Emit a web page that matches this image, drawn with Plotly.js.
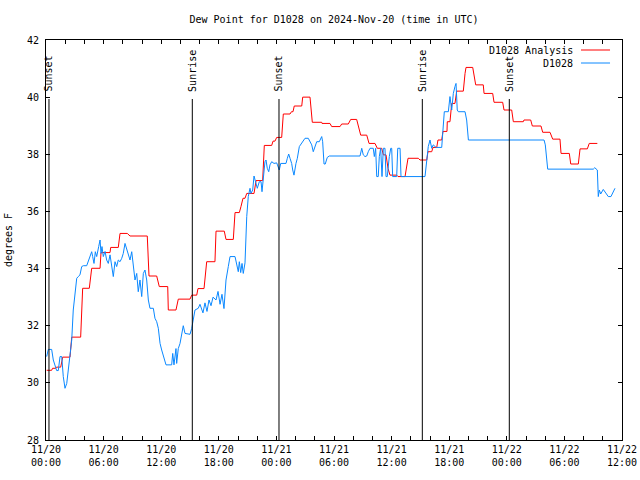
<!DOCTYPE html>
<html>
<head>
<meta charset="utf-8">
<script src="https://cdn.plot.ly/plotly-3.0.1.min.js"></script>
<style>html,body{margin:0;padding:0;background:#fff;}#chart{width:640px;height:480px;}</style>
</head>
<body>
<div id="chart"></div>
<script>
// Hours since 2024-11-20 00:00 UTC
const anaHours = [0.07,0.59,0.68,1.01,1.09,1.53,1.74,2.5,2.68,3.61,3.82,4.51,4.76,5.63,5.73,6.67,6.74,7.53,7.71,8.47,8.75,10.55,10.73,11.53,11.80,12.68,12.74,13.54,13.78,15.0,15.18,15.70,15.83,16.46,16.74,17.60,17.71,18.57,18.75,19.51,19.69,20.14,20.31,20.52,20.73,20.91,21.67,21.88,22.57,22.74,23.51,23.65,23.85,24.03,24.55,24.72,25.42,25.57,25.73,25.86,26.64,26.74,27.5,27.74,28.72,28.75,29.58,29.76,30.63,30.80,31.49,31.74,32.36,32.55,32.78,33.41,33.65,34.27,34.51,34.97,35.14,35.42,35.63,35.83,36.53,36.67,37.40,37.71,38.78,38.96,39.66,39.79,40.18,40.31,40.70,40.83,41.22,41.35,41.77,41.80,42.08,42.26,42.60,42.78,43.47,43.65,43.75,44.45,44.58,44.76,45.55,45.63,46.53,46.67,47.57,47.71,48.51,48.68,49.72,49.79,50.49,50.66,51.56,51.74,52.5,52.78,53.54,53.65,54.51,54.66,55.45,55.63,56.39,56.59,57.43];
const anaDew = [30.44,30.44,30.51,30.51,30.55,30.55,30.9,30.9,31.6,31.6,33.31,33.31,34.01,34.01,34.56,34.56,34.74,34.74,35.23,35.23,35.14,35.14,33.74,33.74,33.37,33.37,32.55,32.55,32.93,32.93,33.07,33.07,33.3,33.3,34.24,34.24,35.31,35.31,35.02,35.02,35.96,35.96,36.17,36.46,36.46,36.63,36.63,37.08,37.08,38.31,38.31,38.46,38.46,38.59,38.59,39.41,39.41,39.49,39.49,39.69,39.69,40.0,40.0,39.12,39.12,39.08,39.08,38.97,38.97,39.06,39.06,39.22,39.22,38.97,38.67,38.67,38.38,38.38,38.21,38.21,37.98,37.98,37.5,37.27,37.27,37.22,37.22,37.86,37.86,37.8,37.8,38.09,38.09,38.24,38.24,38.5,38.5,38.8,38.8,39.14,39.14,39.78,39.78,40.21,40.21,40.83,41.04,41.04,40.74,40.43,40.43,40.13,40.13,39.82,39.82,39.55,39.55,39.14,39.14,39.2,39.2,38.99,38.99,38.77,38.77,38.53,38.53,38.03,38.03,37.66,37.66,38.19,38.19,38.38,38.38];

const obsHours = [0.07,0.24,0.59,0.76,1.11,1.28,1.46,1.64,1.80,1.98,2.16,2.32,2.5,2.68,2.84,3.02,3.20,3.36,3.54,3.72,3.89,4.24,4.41,4.58,4.76,4.86,5.0,5.14,5.28,5.49,5.63,5.73,5.83,5.97,6.15,6.32,6.49,6.67,6.84,7.01,7.19,7.36,7.53,7.71,7.89,8.05,8.23,8.41,8.57,8.75,8.93,9.09,9.27,9.45,9.61,9.79,9.97,10.14,10.31,10.49,10.66,10.83,11.18,11.35,11.53,11.70,11.88,12.05,12.22,12.50,13.09,13.20,13.33,13.54,13.61,13.78,13.96,14.14,14.30,14.48,15.0,15.18,15.34,15.52,15.86,16.04,16.35,16.56,16.77,16.98,17.19,17.40,17.71,17.92,18.13,18.33,18.54,18.75,18.99,19.17,19.69,19.86,20.03,20.14,20.28,20.42,20.55,20.73,20.91,21.07,21.25,21.35,21.53,21.67,21.77,21.88,22.01,22.22,22.40,22.50,22.64,22.81,22.92,23.05,23.20,23.33,23.51,23.75,24.03,24.20,24.30,24.45,25.0,25.14,25.28,25.42,25.59,25.70,25.83,26.04,26.18,26.39,26.53,26.74,26.98,27.32,27.50,27.68,27.84,28.02,28.20,28.47,28.61,28.72,28.82,28.96,29.09,29.30,29.51,30.63,32.71,32.89,33.05,33.23,33.41,33.57,33.75,34.09,34.20,34.34,34.45,34.61,34.72,34.86,35.0,35.14,35.31,35.42,35.55,35.76,35.91,36.01,36.11,36.53,36.64,36.88,36.98,39.48,39.66,39.82,40.0,40.18,40.34,40.63,41.22,41.39,41.49,41.91,42.08,42.26,42.43,42.60,42.71,42.84,42.95,43.65,43.82,44.0,51.88,52.01,52.26,57.01,57.16,57.43,57.53,57.64,57.78,58.05,58.33,58.57,58.85,59.09,59.27];
const obsDew = [30.92,31.17,31.17,30.8,30.43,30.43,30.92,30.92,30.22,29.81,29.98,30.45,30.92,31.5,32.55,33.25,33.66,33.72,33.78,34.07,34.1,34.1,34.24,34.44,34.59,34.42,34.18,34.59,34.42,34.77,35.0,34.53,34.77,34.42,34.6,34.3,34.18,34.48,34.07,33.72,34.24,34.07,34.3,34.24,34.36,34.53,34.88,34.65,34.48,34.3,34.59,34.18,33.6,33.83,33.19,33.6,33.02,33.83,33.95,33.6,32.9,32.61,32.61,32.26,32.14,31.91,31.38,31.15,30.97,30.63,30.63,31.03,30.63,31.2,30.68,31.2,31.38,31.73,32.0,31.73,31.7,31.91,32.26,32.55,32.61,32.75,32.45,32.8,32.5,32.9,32.7,33.0,32.9,33.2,32.75,33.1,32.6,33.6,34.07,34.42,34.42,34.13,33.89,34.24,33.86,34.18,33.83,34.2,35.82,36.52,36.81,36.63,36.75,37.24,37.1,37.04,36.81,37.04,37.04,36.69,37.27,37.74,37.8,37.51,37.39,37.63,37.74,37.68,37.7,37.51,37.45,37.68,37.68,37.86,38.01,37.86,37.68,37.45,37.27,37.68,37.86,38.27,38.33,38.44,38.56,38.56,38.44,38.33,38.09,38.27,38.44,38.44,38.56,38.62,38.44,37.66,37.66,37.89,37.94,37.94,37.94,38.21,37.98,37.92,37.94,38.09,38.21,38.21,37.92,38.21,37.22,37.22,37.92,38.21,37.22,38.21,38.21,37.22,37.22,37.92,38.21,38.21,37.22,37.22,38.21,38.21,37.22,37.22,37.68,38.27,38.5,38.21,38.33,38.24,38.24,38.97,39.49,39.49,40.02,39.55,40.13,40.37,40.48,39.55,39.49,39.49,39.2,38.5,38.5,38.33,37.48,37.48,37.53,37.45,36.52,36.75,36.61,36.77,36.61,36.52,36.52,36.69,36.81];

const sunHours = [0.31, 15.24, 24.27, 39.2, 48.26];
const sunLabels = ["Sunset","Sunrise","Sunset","Sunrise","Sunset"];

const tickHours = [0,6,12,18,24,30,36,42,48,54,60];
const tickLabels = ["11/20<br>00:00","11/20<br>06:00","11/20<br>12:00","11/20<br>18:00","11/21<br>00:00","11/21<br>06:00","11/21<br>12:00","11/21<br>18:00","11/22<br>00:00","11/22<br>06:00","11/22<br>12:00"];

const seriesNames = ["D1028 Analysis", "D1028"];
const seriesColors = ["#ff0000", "#0a88ff"];

const FONT = "DejaVu Sans Mono, Liberation Mono, monospace";

const traces = [
  {x: anaHours, y: anaDew, type: "scatter", mode: "lines", name: seriesNames[0],
   line: {color: seriesColors[0], width: 1}, showlegend: false},
  {x: obsHours, y: obsDew, type: "scatter", mode: "lines", name: seriesNames[1],
   line: {color: seriesColors[1], width: 1}, showlegend: false}
];

const shapes = [];
const annotations = [];
sunHours.forEach((h, i) => {
  shapes.push({type: "line", xref: "x", yref: "paper", x0: h, x1: h, y0: 0, y1: 0.8525,
    line: {color: "#000", width: 1}});
  annotations.push({x: h, xref: "x", y: 0.866, yref: "paper", text: sunLabels[i],
    textangle: -90, xanchor: "center", yanchor: "bottom", showarrow: false,
    font: {family: FONT, size: 10, color: "#000"}});
});
// legend (text on the left, line sample on the right)
const legY = [0.975, 0.9425];
seriesNames.forEach((n, i) => {
  annotations.push({x: 0.918, xref: "paper", y: legY[i], yref: "paper", text: n,
    xanchor: "right", yanchor: "middle", showarrow: false,
    font: {family: FONT, size: 10, color: "#000"}});
  shapes.push({type: "line", xref: "paper", yref: "paper", x0: 0.9288, x1: 0.9792,
    y0: legY[i], y1: legY[i], line: {color: seriesColors[i], width: 1}});
});

const axisCommon = {
  ticks: "inside", ticklen: 4, tickwidth: 1, tickcolor: "#000",
  showline: true, linecolor: "#000", linewidth: 1, mirror: "ticks",
  showgrid: false, zeroline: false,
  tickfont: {family: FONT, size: 10, color: "#000"}
};

const layout = {
  width: 640, height: 480,
  margin: {l: 46, r: 18, t: 40, b: 40, pad: 0},
  paper_bgcolor: "#fff", plot_bgcolor: "#fff",
  font: {family: FONT, size: 10, color: "#000"},
  title: {text: "Dew Point for D1028 on 2024-Nov-20 (time in UTC)",
    font: {family: FONT, size: 10, color: "#000"},
    x: 0.5, xref: "paper", y: 0.96, yref: "container", yanchor: "middle"},
  xaxis: Object.assign({}, axisCommon, {
    range: [0, 60], tickmode: "array", tickvals: tickHours, ticktext: tickLabels,
    minor: {tickmode: "linear", tick0: 0, dtick: 2, ticks: "inside", ticklen: 4, tickcolor: "#000"}
  }),
  yaxis: Object.assign({}, axisCommon, {
    range: [28, 42], tickmode: "linear", tick0: 28, dtick: 2, ticklabelstandoff: 4,
    title: {text: "degrees F", font: {family: FONT, size: 10, color: "#000"}, standoff: 12}
  }),
  shapes: shapes,
  annotations: annotations,
  showlegend: false
};

Plotly.newPlot("chart", traces, layout, {staticPlot: true, displayModeBar: false});
</script>
</body>
</html>
